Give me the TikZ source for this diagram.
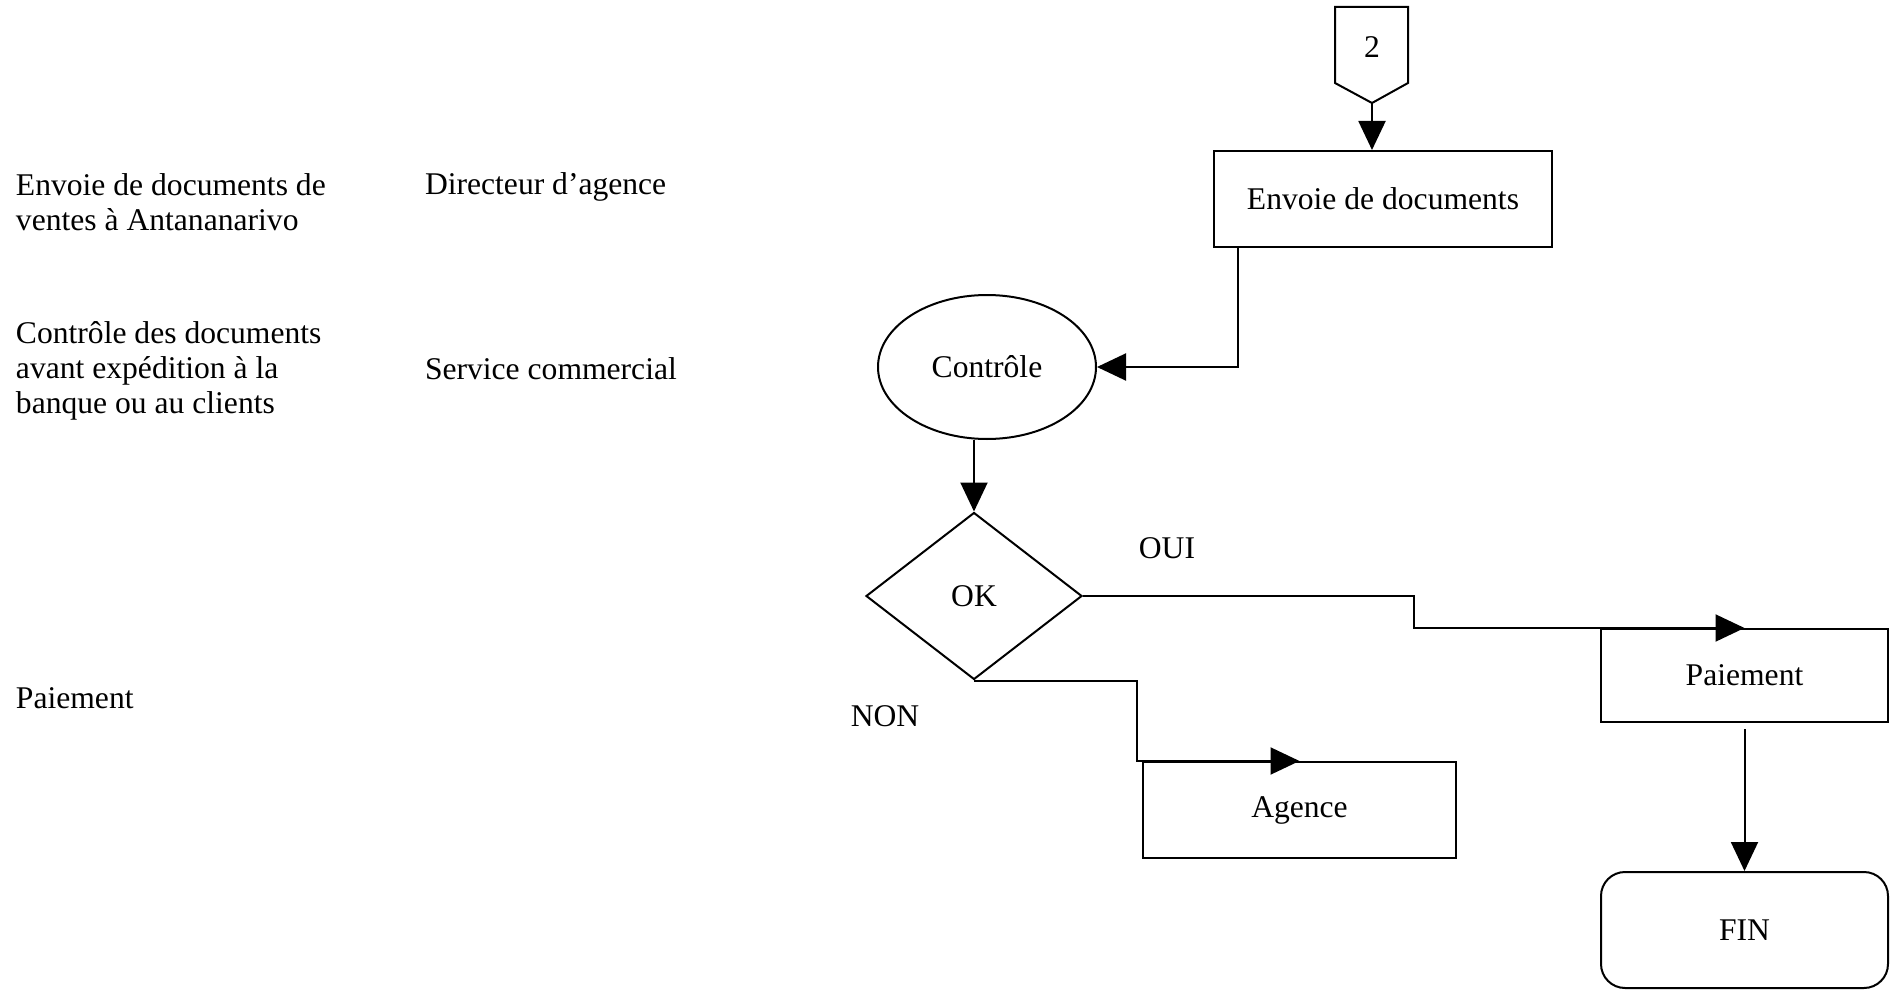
\documentclass[tikz,border=0pt]{standalone}
\usepackage{fontspec}
\setmainfont{Liberation Serif}
\usetikzlibrary{arrows.meta,shapes.geometric}
\begin{document}
\begin{tikzpicture}[x=0.5pt,y=-0.5pt,
  font=\fontsize{15.8pt}{17.5pt}\selectfont,
  line width=1pt,
  box/.style={draw, rectangle, inner sep=0pt},
  arr/.style={-{Triangle[length=14.5pt,width=13.5pt]}},
  lbl/.style={inner sep=0pt}
]
\useasboundingbox (0,0) rectangle (1892,990);

% task / actor columns
\node[lbl, anchor=north west, align=left] (t1) at (15,173) {Envoie de documents de\\ventes à Antananarivo};
\node[lbl, anchor=base west] (a1) at (424,195) {Directeur d’agence};
\node[lbl, anchor=north west, align=left] (t2) at (15,321) {Contrôle des documents\\avant expédition à la\\banque ou au clients};
\node[lbl, anchor=base west] (a2) at (424,379) {Service commercial};
\node[lbl, anchor=base west] (t3) at (15,708) {Paiement};

% off-page connector
\draw (1335,7) -- (1408,7) -- (1408,83) -- (1372,103) -- (1335,83) -- cycle;
\node[lbl] (c2) at (1372,47) {2};
\coordinate (c2tip) at (1372,103);

% flowchart nodes
\node[box, minimum width=169pt, minimum height=48pt] (env) at (1383,199) {Envoie de documents};
\node[draw, ellipse, inner sep=0pt, minimum width=109pt, minimum height=72pt] (ctrl) at (987,367) {Contrôle};
\node[draw, diamond, inner sep=0pt, minimum width=108pt, minimum height=83.5pt] (ok) at (974,596) {OK};
\node[box, minimum width=143.5pt, minimum height=46.5pt] (pay) at (1744.5,675.5) {Paiement};
\node[box, minimum width=156.5pt, minimum height=48pt] (ag) at (1299.5,810) {Agence};
\node[box, rounded corners=12pt, minimum width=143.5pt, minimum height=58pt] (fin) at (1744.5,930) {FIN};

% branch labels
\node[lbl] (oui) at (1167,548) {OUI};
\node[lbl] (non) at (885,716) {NON};

% connectors
\draw[arr] (c2tip) -- (c2tip |- env.north);
\draw[arr] ([xshift=12.5pt]env.south west) |- (ctrl.east);
\draw[arr] (ctrl.south -| ok.north) -- (ok.north);
\draw[arr] (ok.east) -- ++(331,0) |- (pay.north);
\draw[arr] (ok.south) -- ++(163,0) |- (ag.north);
\draw[arr, shorten <=3pt] (pay.south) -- (fin.north);
\end{tikzpicture}
\end{document}
